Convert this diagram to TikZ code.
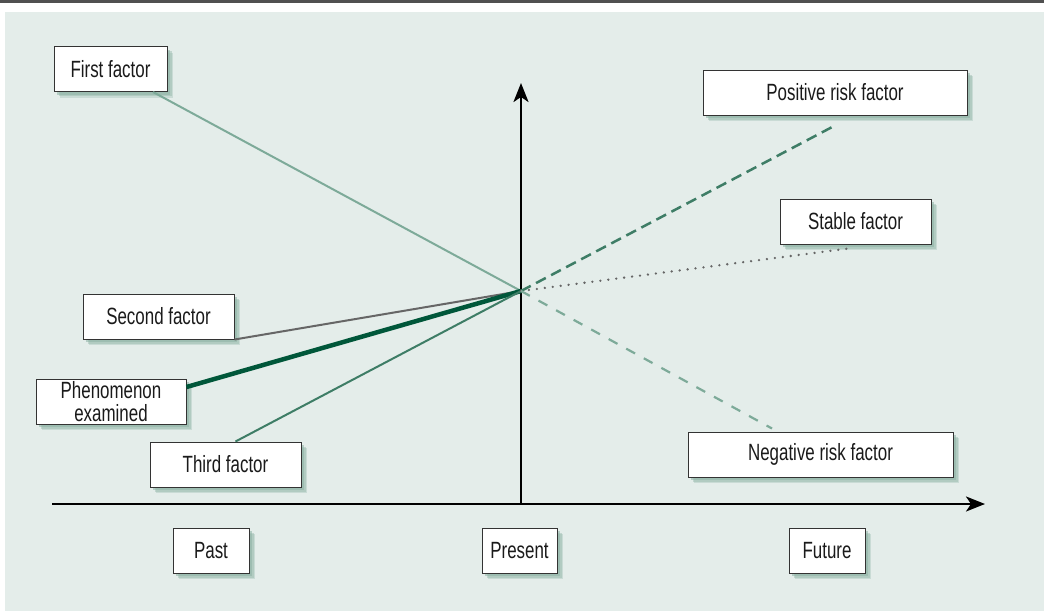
\documentclass[tikz,border=0pt]{standalone}
\usepackage{fontspec}
\setmainfont{Liberation Sans}[FakeStretch=0.72]
\usetikzlibrary{arrows.meta,shadows}
\definecolor{bgc}{HTML}{E4EDEA}
\definecolor{rulec}{HTML}{505050}
\definecolor{boxline}{HTML}{333333}
\definecolor{txt}{HTML}{1A1A1A}
\definecolor{shc}{HTML}{8DB3A5}
\definecolor{lightg}{HTML}{7DAA99}
\definecolor{midg}{HTML}{3E7D66}
\definecolor{darkg}{HTML}{00573A}
\definecolor{grayl}{HTML}{666666}
\begin{document}
\begin{tikzpicture}[x=1pt,y=-1pt,
  box/.style={draw=boxline, line width=1pt, fill=white, inner sep=0pt,
    font=\fontsize{23.5}{23}\selectfont, text=txt, align=center, minimum height=45pt,
    drop shadow={shadow xshift=6pt, shadow yshift=-6pt, fill=shc, opacity=0.3},
    drop shadow={shadow xshift=4.5pt, shadow yshift=-4.5pt, fill=shc, opacity=0.4},
    drop shadow={shadow xshift=3pt, shadow yshift=-3pt, fill=shc, opacity=0.55}},
  axis/.style={line width=2.5pt, black, -{Stealth[length=19pt,width=15pt,inset=5pt]}},
  factor/.style={line width=2pt},
]
\useasboundingbox (0,0) rectangle (1044,614);
\fill[rulec] (0,0) rectangle (1044,3);
\fill[bgc] (5,12) rectangle (1044,611);

% axes
\coordinate (xl) at (52,504);
\coordinate (xr) at (985,504);
\coordinate (o) at (521,504);
\coordinate (yt) at (521,83);
\coordinate (c) at (521,291);
\draw[axis] (xl) -- (xr);
\draw[axis] (o) -- (yt);

% boxes
\node[box, minimum width=113pt] (ff) at (110.5,69) {First factor};
\node[box, minimum width=264pt] (prf) at (835,92.5) {Positive risk factor};
\node[box, minimum width=151pt] (stf) at (855.5,221.5) {Stable factor};
\node[box, minimum width=151pt] (sef) at (158.5,316.5) {Second factor};
\node[box, minimum width=150pt] (pe) at (111,401.5) {Phenomenon\\examined};
\node[box, minimum width=151pt] (tf) at (225.5,464.5) {Third factor};
\node[box, minimum width=265pt] (nrf) at (820.5,454.5) {Negative risk factor};
\node[box, minimum width=76pt] (past) at (211,550.5) {Past};
\node[box, minimum width=75pt] (pres) at (519.5,550.5) {Present};
\node[box, minimum width=76pt] (fut) at (827,550.5) {Future};

% connectors
\draw[factor, lightg] (c) -- (ff);
\draw[factor, grayl] (c) -- (sef.south east);
\draw[line width=4.5pt, darkg] (c) -- ([yshift=14.5pt]pe.east);
\draw[factor, midg] (c) -- ([xshift=10pt]tf.north);
\draw[line width=2.5pt, midg, dash pattern=on 11pt off 6pt] (c) -- ([yshift=-10pt]prf.south);
\draw[line width=2.6pt, grayl, line cap=round, dash pattern=on 0pt off 8pt] (c) -- ([xshift=-7pt,yshift=-4pt]stf.south);
\draw[line width=2.2pt, lightg, dash pattern=on 10pt off 10pt] (c) -- ([xshift=-48.5pt,yshift=3pt]nrf.north);
\end{tikzpicture}
\end{document}
